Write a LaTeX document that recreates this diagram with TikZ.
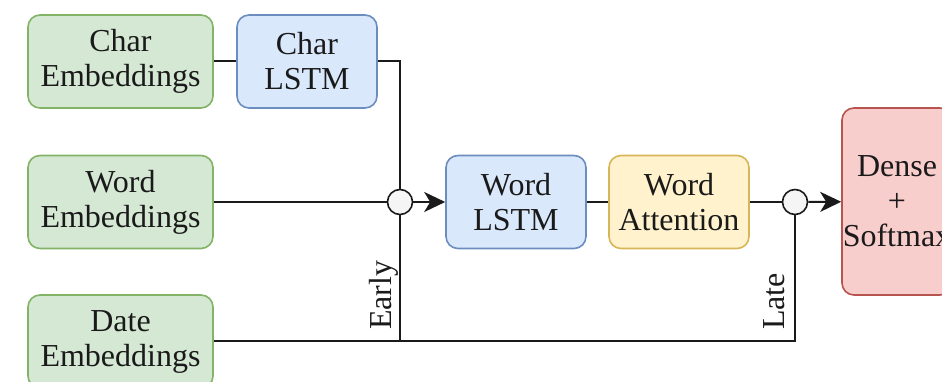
\documentclass[tikz,border=0pt]{standalone}
\usepackage{fontspec}
\setmainfont{Liberation Serif}
\usetikzlibrary{arrows.meta}
\definecolor{gfill}{HTML}{D5E8D4}\definecolor{gdraw}{HTML}{82B366}
\definecolor{bfill}{HTML}{DAE8FC}\definecolor{bdraw}{HTML}{6C8EBF}
\definecolor{yfill}{HTML}{FFF2CC}\definecolor{ydraw}{HTML}{D6B656}
\definecolor{rfill}{HTML}{F8CECC}\definecolor{rdraw}{HTML}{B85450}
\definecolor{cfill}{HTML}{F5F5F5}\definecolor{ink}{HTML}{1A1A1A}
\begin{document}
\begin{tikzpicture}[x=1pt,y=1pt,
  box/.style={draw, line width=1.6pt, rounded corners=12pt, align=center, inner sep=0pt,
    font=\fontsize{32}{35}\selectfont, text=ink, minimum height=93pt},
  green/.style={box, fill=gfill, draw=gdraw, minimum width=185pt},
  blue/.style={box, fill=bfill, draw=bdraw, minimum width=140pt},
  yellow/.style={box, fill=yfill, draw=ydraw, minimum width=140pt},
  red/.style={box, fill=rfill, draw=rdraw, minimum width=110pt, minimum height=187pt},
  junc/.style={circle, draw=ink, fill=cfill, line width=1.6pt, minimum size=25pt, inner sep=0pt},
  wire/.style={draw=ink, line width=2pt},
  arr/.style={wire, -{Stealth[length=21pt, width=20pt, inset=6pt]}},
  lab/.style={rotate=90, anchor=base west, inner sep=0pt, text=ink, font=\fontsize{32}{35}\selectfont}]
\useasboundingbox (0,0) rectangle (942,382);
\clip (0,0) rectangle (942,382);
\node[green] (ce) at (120.5,320.5) {Char\\Embeddings};
\node[blue] (cl) at (307,320.5) {Char\\LSTM};
\node[green] (we) at (120.5,180) {Word\\Embeddings};
\node[blue] (wl) at (516,180) {Word\\LSTM};
\node[yellow] (wa) at (679,180) {Word\\Attention};
\node[green] (de) at (120.5,40.5) {Date\\Embeddings};
\node[red] (dn) at (897,180.5) {Dense\\+\\Softmax};
\node[junc] (j1) at (400,180) {};
\node[junc] (j2) at (795,180) {};
\coordinate (dc1) at (400,40.5);
\coordinate (dc2) at (795,40.5);
\draw[wire] (ce) -- (cl);
\draw[wire] (cl.east) -| (j1.north);
\draw[wire] (we) -- (j1);
\draw[arr] (j1) -- (wl);
\draw[wire] (wl) -- (wa);
\draw[wire] (wa) -- (j2);
\draw[arr] (j2) -- (dn);
\draw[wire] (de.east) -- (dc2) -- (j2.south);
\draw[wire] (dc1) -- (j1.south);
\node[lab] (early) at (391,52) {Early};
\node[lab] (late) at (784,52) {Late};
\end{tikzpicture}
\end{document}
